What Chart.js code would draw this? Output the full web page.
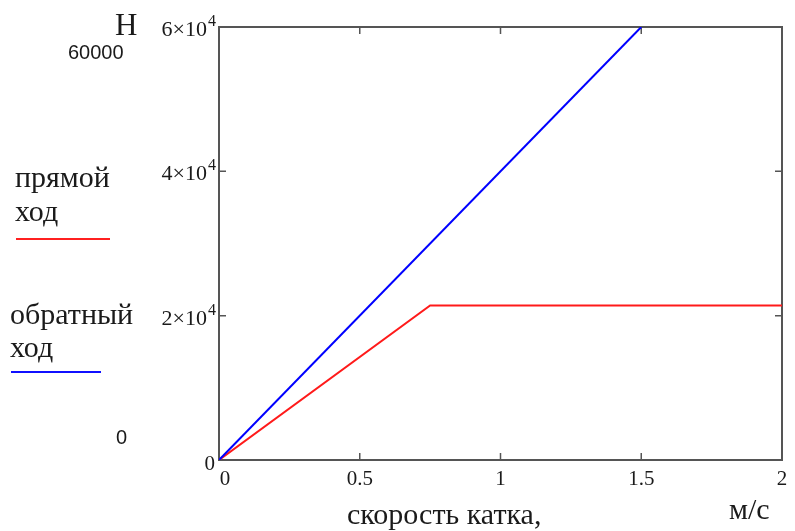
<!DOCTYPE html>
<html>
<head>
<meta charset="utf-8">
<script src="https://cdn.jsdelivr.net/npm/chart.js@4.4.1/dist/chart.umd.min.js"></script>
<style>
  html, body { margin: 0; padding: 0; background: #fff; }
  #wrap { width: 795px; height: 531px; }
</style>
</head>
<body>
<div id="wrap"><canvas id="plot" width="795" height="531"></canvas></div>
<script>
// прямой ход (красная) и обратный ход (синяя)
const speedForward = [0, 0.75, 2];
const forceForward = [0, 21400, 21400];
const speedBack = [0, 1.5];
const forceBack = [0, 60000];

const xTicks = [0, 0.5, 1, 1.5, 2];
const xTickLabels = ['0', '0.5', '1', '1.5', '2'];
const yTicks = [0, 20000, 40000, 60000];
const yTickLabels = ['0', '2', '4', '6'];

const serif = '"Liberation Serif", "DejaVu Serif", serif';
const sans = '"Liberation Sans", Arial, sans-serif';

const toPoints = (xs, ys) => xs.map((x, i) => ({ x: x, y: ys[i] }));

const mathcadFrame = {
  id: 'mathcadFrame',
  beforeDatasetsDraw(chart) {
    const ctx = chart.ctx;
    const a = chart.chartArea;
    const xs = chart.scales.x, ys = chart.scales.y;
    ctx.save();
    ctx.strokeStyle = '#555';
    ctx.lineWidth = 2;
    ctx.strokeRect(a.left, a.top, a.right - a.left, a.bottom - a.top);
    ctx.lineWidth = 1.5;
    ctx.beginPath();
    xTicks.forEach(v => {
      if (v === xs.min || v === xs.max) return;
      const px = xs.getPixelForValue(v);
      ctx.moveTo(px, a.bottom); ctx.lineTo(px, a.bottom - 7);
      ctx.moveTo(px, a.top); ctx.lineTo(px, a.top + 7);
    });
    yTicks.forEach(v => {
      if (v === ys.min || v === ys.max) return;
      const py = ys.getPixelForValue(v);
      ctx.moveTo(a.left, py); ctx.lineTo(a.left + 7, py);
      ctx.moveTo(a.right, py); ctx.lineTo(a.right - 7, py);
    });
    ctx.stroke();
    ctx.restore();
  },
  afterDraw(chart) {
    const ctx = chart.ctx;
    const a = chart.chartArea;
    const xs = chart.scales.x, ys = chart.scales.y;
    ctx.save();
    ctx.fillStyle = '#1a1a1a';
    ctx.textBaseline = 'alphabetic';

    // подписи оси X
    ctx.font = '21px ' + serif;
    ctx.textAlign = 'center';
    xTicks.forEach((v, i) => {
      let px = xs.getPixelForValue(v);
      if (i === 0) px += 6;
      ctx.fillText(xTickLabels[i], px, a.bottom + 25);
    });

    // подписи оси Y: m×10^4
    yTicks.forEach((v, i) => {
      const py = ys.getPixelForValue(v);
      const right = a.left - 3;
      if (v === 0) {
        ctx.font = '21px ' + serif;
        ctx.textAlign = 'right';
        ctx.fillText('0', right - 1, py + 10);
        return;
      }
      ctx.font = '16px ' + serif;
      const wSup = ctx.measureText('4').width;
      ctx.font = '22px ' + serif;
      const main = yTickLabels[i] + '×10';
      ctx.textAlign = 'right';
      ctx.fillText(main, right - wSup - 1, py + 9);
      ctx.font = '16px ' + serif;
      ctx.textAlign = 'left';
      ctx.fillText('4', right - wSup, py - 1);
    });

    // надписи
    ctx.textAlign = 'left';
    ctx.font = '31px ' + serif;
    ctx.fillText('Н', 115, 35);
    ctx.font = '20px ' + sans;
    ctx.fillText('60000', 68, 59);
    ctx.fillText('0', 116, 444);

    ctx.font = '30px ' + serif;
    ctx.fillText('прямой', 15, 187);
    ctx.fillText('ход', 15, 221);
    ctx.fillText('обратный', 10, 324);
    ctx.fillText('ход', 10, 357);
    ctx.fillText('м/с', 729, 519);
    ctx.fillText('скорость катка,', 347, 524);

    ctx.lineWidth = 2;
    ctx.strokeStyle = '#ff2020';
    ctx.beginPath(); ctx.moveTo(16, 239); ctx.lineTo(110, 239); ctx.stroke();
    ctx.strokeStyle = '#1010ff';
    ctx.beginPath(); ctx.moveTo(11, 372); ctx.lineTo(101, 372); ctx.stroke();
    ctx.restore();
  }
};

new Chart(document.getElementById('plot').getContext('2d'), {
  type: 'scatter',
  data: {
    datasets: [
      {
        label: 'обратный ход',
        data: toPoints(speedBack, forceBack),
        showLine: true,
        borderColor: '#0000ff',
        borderWidth: 2,
        pointRadius: 0,
        tension: 0
      },
      {
        label: 'прямой ход',
        data: toPoints(speedForward, forceForward),
        showLine: true,
        borderColor: '#ff1a1a',
        borderWidth: 2,
        pointRadius: 0,
        tension: 0
      }
    ]
  },
  options: {
    responsive: false,
    animation: false,
    layout: { padding: { left: 219, top: 27, right: 13, bottom: 71 } },
    plugins: { legend: { display: false }, tooltip: { enabled: false } },
    scales: {
      x: { type: 'linear', min: 0, max: 2, display: false },
      y: { type: 'linear', min: 0, max: 60000, display: false }
    }
  },
  plugins: [mathcadFrame]
});
</script>
</body>
</html>
